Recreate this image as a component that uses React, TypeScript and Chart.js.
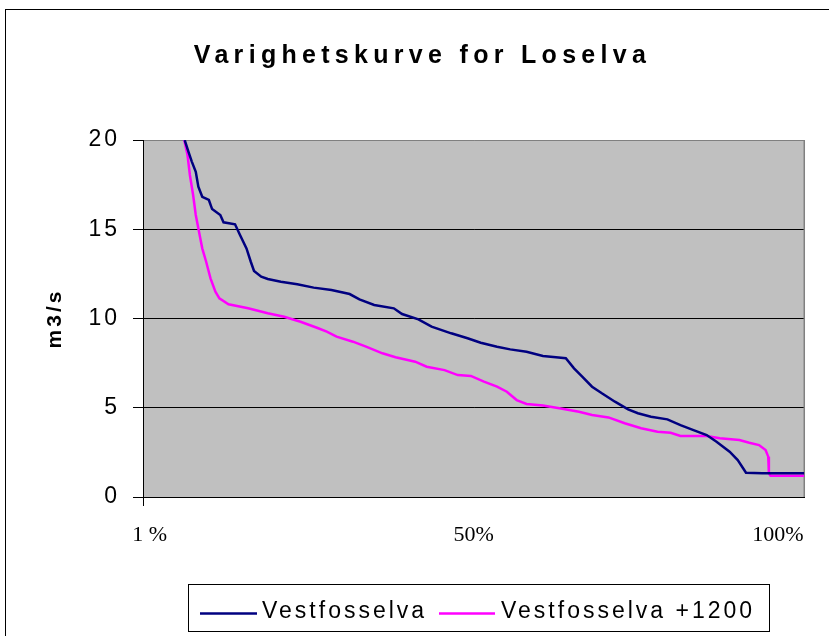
import { useEffect, useRef } from 'react';
import { Chart, registerables } from 'chart.js';

Chart.register(...registerables);

const TITLE = 'Varighetskurve for Loselva';
const Y_TITLE = 'm3/s';
const SERIES_NAMES = ['Vestfosselva', 'Vestfosselva +1200'];
const SERIES_COLORS = ['#000080', '#FF00FF'];
const X_TICK_VALUES = [1, 50, 96];
const X_TICK_LABELS = ['1 %', '50%', '100%'];

// Vestfosselva: duration (%) and flow (m3/s)
const vestX = [6.3, 6.88, 7.38, 7.98, 8.37, 8.96, 9.96, 10.45, 11.69, 12.18, 13.92, 14.67, 15.65, 16.3, 16.79, 17.88, 18.87, 20.85, 23.33, 25.81, 28.5, 31.25, 32.73, 34.96, 37.93, 39.18, 41.65, 43.64, 46.61, 49.08, 51.07, 53.54, 55.53, 58.0, 60.48, 62.45, 63.94, 65.18, 66.42, 67.91, 69.39, 71.37, 73.36, 74.84, 76.82, 79.3, 81.28, 83.25, 85.24, 86.73, 88.71, 89.94, 91.19, 93.66, 100];
const vestY = [20.0, 19.34, 18.79, 18.22, 17.38, 16.82, 16.64, 16.13, 15.8, 15.39, 15.28, 14.68, 13.93, 13.18, 12.66, 12.34, 12.21, 12.06, 11.92, 11.73, 11.6, 11.37, 11.07, 10.76, 10.57, 10.25, 9.95, 9.54, 9.17, 8.89, 8.64, 8.42, 8.27, 8.14, 7.9, 7.83, 7.77, 7.21, 6.74, 6.18, 5.81, 5.34, 4.91, 4.69, 4.5, 4.35, 4.03, 3.75, 3.47, 3.1, 2.54, 2.07, 1.36, 1.33, 1.33];

// Vestfosselva +1200
const plusX = [6.24, 6.73, 7.09, 7.58, 7.98, 8.47, 8.96, 9.55, 10.21, 10.95, 11.55, 12.93, 15.9, 18.87, 21.35, 23.82, 26.3, 27.79, 29.27, 31.75, 33.73, 36.21, 38.19, 41.16, 42.9, 45.6, 47.6, 49.58, 51.56, 53.54, 55.02, 56.51, 58.0, 60.48, 62.96, 65.93, 67.91, 70.39, 72.85, 75.33, 77.81, 79.79, 81.28, 85.24, 87.22, 90.19, 91.68, 93.16, 94.15, 94.55, 94.65, 94.9, 100];
const plusY = [20.0, 19.16, 18.04, 16.92, 15.8, 14.86, 13.93, 13.18, 12.25, 11.5, 11.13, 10.8, 10.57, 10.29, 10.1, 9.82, 9.48, 9.26, 8.98, 8.7, 8.42, 8.05, 7.83, 7.58, 7.3, 7.11, 6.83, 6.78, 6.46, 6.18, 5.9, 5.43, 5.21, 5.12, 4.97, 4.78, 4.59, 4.46, 4.13, 3.85, 3.66, 3.6, 3.42, 3.42, 3.29, 3.19, 3.04, 2.91, 2.63, 2.26, 1.33, 1.19, 1.19];

const decor = {
  id: 'decor',
  beforeDraw(chart: any) {
    const { ctx, chartArea: a } = chart;
    ctx.save();
    ctx.fillStyle = '#ffffff';
    ctx.fillRect(0, 0, chart.width, chart.height);
    ctx.strokeStyle = '#000000';
    ctx.lineWidth = 1;
    ctx.strokeRect(5.5, 9.5, 1000, 800);
    ctx.fillStyle = '#C0C0C0';
    ctx.fillRect(a.left, a.top, a.right - a.left, a.bottom - a.top);
    ctx.restore();
    ctx.letterSpacing = '3px';
  },
  beforeDatasetsDraw(chart: any) {
    const { ctx, chartArea: a } = chart;
    ctx.letterSpacing = '0px';
    ctx.save();
    ctx.strokeStyle = '#808080';
    ctx.lineWidth = 1.5;
    ctx.beginPath();
    ctx.moveTo(a.right, a.top);
    ctx.lineTo(a.right, a.bottom);
    ctx.stroke();
    ctx.strokeStyle = '#000000';
    ctx.lineWidth = 1;
    ctx.beginPath();
    ctx.moveTo(Math.round(a.left) + 0.5, a.bottom);
    ctx.lineTo(Math.round(a.left) + 0.5, a.bottom + 9);
    ctx.stroke();
    ctx.restore();
  },
  afterDraw(chart: any) {
    const { ctx } = chart;
    ctx.save();
    // title
    ctx.fillStyle = '#000000';
    ctx.letterSpacing = '5.3px';
    ctx.font = 'bold 25px "Liberation Sans", Arial, sans-serif';
    ctx.textAlign = 'center';
    ctx.textBaseline = 'alphabetic';
    ctx.fillText(TITLE, 422.5, 63);
    // legend
    ctx.letterSpacing = '0px';
    ctx.strokeStyle = '#000000';
    ctx.lineWidth = 1;
    ctx.strokeRect(188.5, 584.5, 581, 47);
    const lineX = [[200, 257], [439, 495]];
    const textX = [262, 501];
    ctx.font = '23px "Liberation Sans", Arial, sans-serif';
    ctx.textAlign = 'left';
    SERIES_NAMES.forEach((name, i) => {
      ctx.strokeStyle = SERIES_COLORS[i];
      ctx.lineWidth = 2.5;
      ctx.beginPath();
      ctx.moveTo(lineX[i][0], 613.5);
      ctx.lineTo(lineX[i][1], 613.5);
      ctx.stroke();
      ctx.letterSpacing = '3px';
      ctx.fillStyle = '#000000';
      ctx.fillText(name, textX[i], 618);
      ctx.letterSpacing = '0px';
    });
    ctx.restore();
  },
};

export default function App() {
  const ref = useRef<HTMLCanvasElement>(null);
  useEffect(() => {
    if (!ref.current) return;
    const chart = new Chart(ref.current, {
      type: 'line',
      data: {
        datasets: [
          {
            label: SERIES_NAMES[0],
            data: vestX.map((x, i) => ({ x, y: vestY[i] })),
            borderColor: SERIES_COLORS[0],
            borderWidth: 2.5,
            pointRadius: 0,
            tension: 0,
            fill: false,
          },
          {
            label: SERIES_NAMES[1],
            data: plusX.map((x, i) => ({ x, y: plusY[i] })),
            borderColor: SERIES_COLORS[1],
            borderWidth: 2.5,
            pointRadius: 0,
            tension: 0,
            fill: false,
          },
        ],
      },
      options: {
        animation: false,
        responsive: false,
        devicePixelRatio: 1,
        layout: { padding: { left: 0, top: 140, right: 13, bottom: 0 } },
        plugins: {
          legend: { display: false },
          title: { display: false },
          tooltip: { enabled: false },
        },
        scales: {
          x: {
            type: 'linear',
            min: 0,
            max: 100,
            afterBuildTicks: (s: any) => {
              s.ticks = X_TICK_VALUES.map((v) => ({ value: v }));
            },
            afterFit: (s: any) => {
              s.height = 139;
            },
            ticks: {
              z: 1,
              autoSkip: false,
              maxRotation: 0,
              padding: 25,
              color: '#000000',
              font: { family: '"Liberation Serif", "Times New Roman", serif', size: 22 },
              callback: (_v: any, i: number) => X_TICK_LABELS[i],
            },
            grid: { display: false, drawTicks: false },
            border: { display: true, color: '#000000', width: 1 },
          },
          y: {
            type: 'linear',
            min: 0,
            max: 20,
            afterFit: (s: any) => {
              s.width = 143;
            },
            ticks: {
              stepSize: 5,
              padding: 13,
              color: '#000000',
              font: { family: '"Liberation Sans", Arial, sans-serif', size: 23 },
            },
            grid: {
              color: (c: any) => (c.tick && c.tick.value === 20 ? '#808080' : '#000000'),
              tickColor: '#000000',
              tickLength: 10,
              lineWidth: 1,
            },
            border: { display: true, color: '#000000', width: 1 },
            title: {
              display: true,
              text: Y_TITLE,
              color: '#000000',
              font: { family: '"Liberation Sans", Arial, sans-serif', size: 21, weight: 'bold' },
              padding: { top: 43, bottom: 0 },
            },
          },
        },
      },
      plugins: [decor],
    });
    return () => chart.destroy();
  }, []);
  return (
    <div style={{ position: 'absolute', left: 0, top: 0, width: 829, height: 636 }}>
      <canvas ref={ref} width={829} height={636} />
    </div>
  );
}
